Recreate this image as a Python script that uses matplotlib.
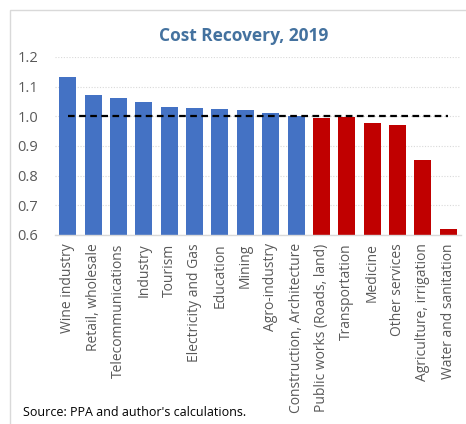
import matplotlib.pyplot as plt
import numpy as np

# --------------------------------------------------
# Data
# --------------------------------------------------
sectors = [
    'Wine industry', 'Retail, wholesale', 'Telecommunications', 'Industry',
    'Tourism', 'Electricity and Gas', 'Education', 'Mining', 'Agro-industry',
    'Construction, Architecture', 'Public works (Roads, land)', 'Transportation',
    'Medicine', 'Other services', 'Agriculture, irrigation', 'Water and sanitation',
]
recovery = [1.131, 1.073, 1.062, 1.048, 1.030, 1.028, 1.025, 1.020, 1.011,
            1.000, 0.995, 0.997, 0.979, 0.970, 0.854, 0.620]
breakeven = [1.0] * len(sectors)
y_ticks = [0.6, 0.7, 0.8, 0.9, 1.0, 1.1, 1.2]

plt.rcParams['font.family'] = ['Open Sans', 'DejaVu Sans']

fig = plt.figure(figsize=(4.66, 4.24), dpi=100)
ax = fig.add_axes([55 / 466, 1 - 235 / 424, 406 / 466, 178 / 424])

x = np.arange(len(sectors))
colors = ['#4472C4' if v >= 1.0 else '#C00000' for v in recovery]
ax.bar(x, np.array(recovery) - 0.6, bottom=0.6, width=0.67, color=colors, zorder=2)
ax.plot(x, breakeven, color='black', linestyle=(0, (3, 2)), linewidth=1.6, zorder=3)

ax.set_xlim(-0.5, len(sectors) - 0.5)
ax.set_ylim(0.6, 1.2)
ax.set_yticks(y_ticks)
ax.set_yticklabels([f'{t:.1f}' for t in y_ticks])
ax.set_xticks(x)
ax.set_xticklabels(sectors, rotation=90)
ax.tick_params(axis='x', length=0, labelsize=10, labelcolor='#595959', pad=6)
ax.tick_params(axis='y', length=0, labelsize=10.5, labelcolor='#595959', pad=12)
ax.grid(True, axis='y', color='#D9D9D9', linestyle=(0, (1, 1.5)), linewidth=0.8, zorder=0)
for side in ['top', 'right', 'left']:
    ax.spines[side].set_visible(False)
ax.spines['bottom'].set_color('#D9D9D9')
ax.spines['bottom'].set_linewidth(1.0)

fig.text(244 / 466, 1 - 36 / 424, 'Cost Recovery, 2019', ha='center', va='center',
         fontsize=12.5, fontweight='bold', color='#44729F')
fig.text(23 / 466, 1 - 413 / 424, "Source: PPA and author's calculations.", ha='left',
         va='center', fontsize=9, color='black')

# chart frame
frame = plt.Rectangle((10 / 466, -0.01), 1.0, 1 - 10 / 424 + 0.01, transform=fig.transFigure,
                      fill=False, edgecolor='#D9D9D9', linewidth=1.0)
fig.patches.append(frame)

fig.savefig('out.png', dpi=100)
